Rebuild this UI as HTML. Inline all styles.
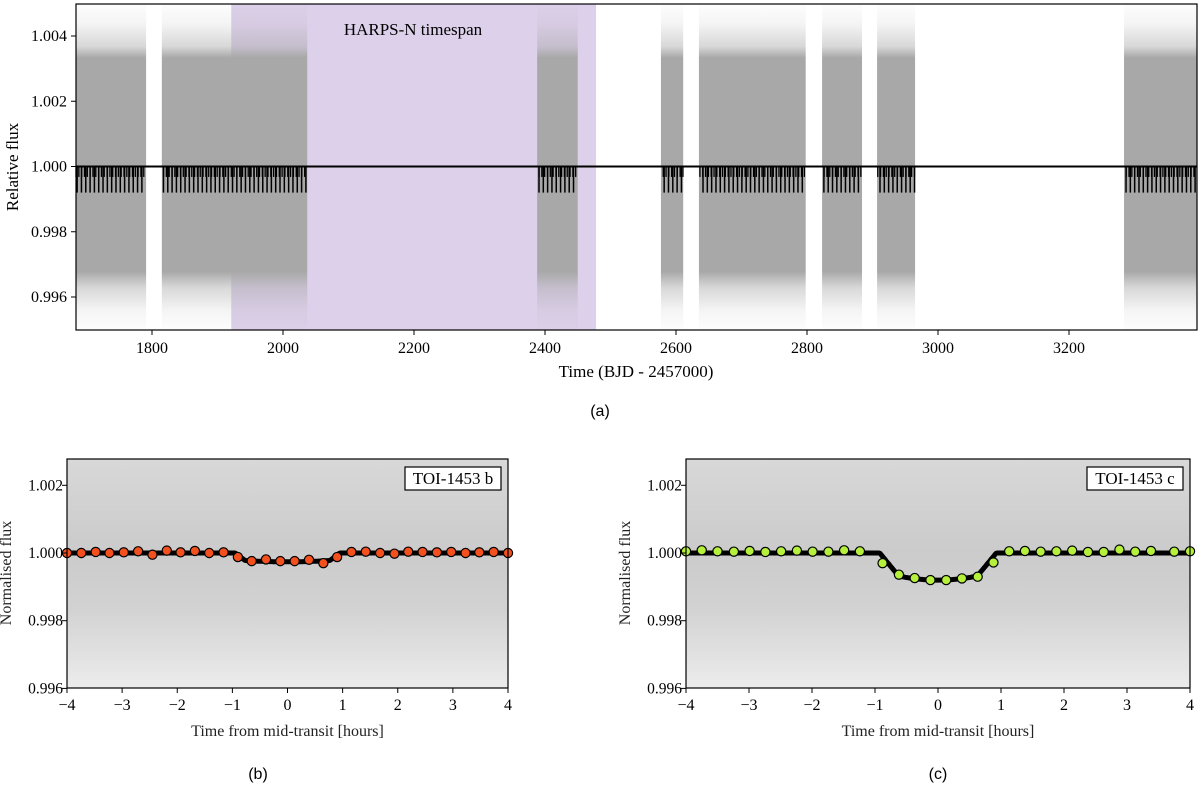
<!DOCTYPE html>
<html><head><meta charset="utf-8"><style>
body{margin:0;background:#fff}
svg{display:block;font-family:"Liberation Serif",serif}
</style></head><body>
<svg id="fig" width="1200" height="785" viewBox="0 0 1200 785">
<defs>
<linearGradient id="segGrad" x1="0" y1="0" x2="0" y2="1">
<stop offset="0" stop-color="#a8a8a8" stop-opacity="0.02"/>
<stop offset="0.06" stop-color="#a8a8a8" stop-opacity="0.12"/>
<stop offset="0.13" stop-color="#a8a8a8" stop-opacity="0.45"/>
<stop offset="0.165" stop-color="#a8a8a8" stop-opacity="1"/>
<stop offset="0.82" stop-color="#a8a8a8" stop-opacity="1"/>
<stop offset="0.87" stop-color="#a8a8a8" stop-opacity="0.45"/>
<stop offset="0.94" stop-color="#a8a8a8" stop-opacity="0.12"/>
<stop offset="1" stop-color="#a8a8a8" stop-opacity="0.02"/>
</linearGradient>
<linearGradient id="phGrad" x1="0" y1="0" x2="0" y2="1">
<stop offset="0" stop-color="#d8d8d8"/>
<stop offset="0.4" stop-color="#cbcbcb"/>
<stop offset="0.65" stop-color="#d2d2d2"/>
<stop offset="1" stop-color="#ececec"/>
</linearGradient>
</defs>
<g id="top"></g>
<g id="pb"></g>
<g id="pc"></g>
<text x="600" y="416" font-size="16" text-anchor="middle" font-family="Liberation Sans, sans-serif">(a)</text>
<text x="258" y="779" font-size="16" text-anchor="middle" font-family="Liberation Sans, sans-serif">(b)</text>
<text x="938" y="779" font-size="16" text-anchor="middle" font-family="Liberation Sans, sans-serif">(c)</text>
</svg>
<script>
// ---- top panel data ----
const segStarts = [1684, 1815, 2388, 2577, 2635, 2823, 2907, 3284];
const segEnds   = [1791, 2037, 2450, 2611, 2798, 2884, 2965, 3395];
const harpsSpan = [1921, 2478];
const topXTicks = [1800, 2000, 2200, 2400, 2600, 2800, 3000, 3200];
const topYTicks = [0.996, 0.998, 1.000, 1.002, 1.004];
const transitPeriods = [4.31, 6.59];
const transitDepths = [0.99968, 0.9992];
// ---- phase panels data ----
const phaseTicksX = [-4, -3, -2, -1, 0, 1, 2, 3, 4];
const phaseTicksY = [0.996, 0.998, 1.000, 1.002];
const binTimesB = [-4,-3.74,-3.48,-3.23,-2.97,-2.71,-2.45,-2.19,-1.94,-1.68,-1.42,-1.16,-0.9,-0.65,-0.39,-0.13,0.13,0.39,0.65,0.9,1.16,1.42,1.68,1.94,2.19,2.45,2.71,2.97,3.23,3.48,3.74,4];
const binFluxB  = [1.0000,1.0000,1.00003,1.0000,1.00002,1.00005,0.99995,1.00007,1.00002,1.00006,1.0000,1.00002,0.99988,0.99976,0.99981,0.99976,0.99976,0.9998,0.9997,0.99988,1.00003,1.00004,1.0000,0.99998,1.00004,1.00003,1.00002,1.00003,1.0000,1.00002,1.00003,1.0000];
const binTimesC = [-4,-3.75,-3.5,-3.24,-2.99,-2.74,-2.49,-2.24,-1.99,-1.74,-1.49,-1.24,-0.88,-0.62,-0.37,-0.12,0.13,0.38,0.63,0.88,1.13,1.38,1.63,1.88,2.13,2.38,2.63,2.88,3.13,3.38,3.75,4];
const binFluxC  = [1.00005,1.00008,1.00005,1.00004,1.00006,1.00003,1.00005,1.00007,1.00004,1.00004,1.00008,1.00005,0.9997,0.99936,0.99926,0.9992,0.9992,0.99925,0.9993,0.99972,1.00005,1.00006,1.00004,1.00005,1.00007,1.00003,1.00003,1.0001,1.00004,1.00006,1.00004,1.00005];
const modelDepth = [0.00026, 0.0008];
const modelT14 = [1.9, 1.85];
const modelTau = [0.18, 0.3];

const NS = "http://www.w3.org/2000/svg";
function mk(parent, tag, attrs){const e=document.createElementNS(NS,tag);for(const k in attrs)e.setAttribute(k,attrs[k]);parent.appendChild(e);return e;}

// ---- top panel ----
(function(){
  const g=document.getElementById('top');
  const L=76,R=1197,T=4,B=330;
  const xs=v=>152+(v-1800)*0.655;
  const ys=v=>166.5-(v-1)*32625;
  const hs=mk(g,'rect',{x:xs(harpsSpan[0]),y:T,width:xs(harpsSpan[1])-xs(harpsSpan[0]),height:B-T,fill:'#ddd0ea'});
  
  
  for(let i=0;i<segStarts.length;i++){
    const r=mk(g,'rect',{x:xs(segStarts[i]),y:T,width:xs(segEnds[i])-xs(segStarts[i]),height:B-T,fill:'url(#segGrad)'});
    
    
  }
  transitPeriods.forEach((P,pi)=>{
    for(let i=0;i<segStarts.length;i++){
      let t0=Math.ceil((segStarts[i]-1684)/P)*P+1684+pi*1.7;
      for(let t=t0;t<segEnds[i];t+=P){
        const l=mk(g,'line',{x1:xs(t),x2:xs(t),y1:ys(1),y2:ys(transitDepths[pi]),stroke:'#000','stroke-width':pi?1.5:1.3});
        
        
      }
    }
  });
  const ml=mk(g,'line',{x1:L,x2:R,y1:ys(1),y2:ys(1),stroke:'#000','stroke-width':2});
  
  
  const fr=mk(g,'rect',{x:L,y:T,width:R-L,height:B-T,fill:'none',stroke:'#000','stroke-width':1.2});
  
  
  const ht=mk(g,'text',{x:413,y:35,'font-size':17,'text-anchor':'middle'});ht.textContent='HARPS-N timespan';
  
  
  topXTicks.forEach(v=>{mk(g,'line',{x1:xs(v),x2:xs(v),y1:B,y2:B+5,stroke:'#000'});
    const t=mk(g,'text',{x:xs(v),y:B+23,'font-size':16,'text-anchor':'middle'});t.textContent=v;
    
    });
  topYTicks.forEach(v=>{mk(g,'line',{x1:L-5,x2:L,y1:ys(v),y2:ys(v),stroke:'#000'});
    const t=mk(g,'text',{x:L-9,y:ys(v)+5,'font-size':16,'text-anchor':'end'});t.textContent=v.toFixed(3);
    
    });
  const xt=mk(g,'text',{x:636,y:377,'font-size':17,'text-anchor':'middle'});xt.textContent='Time (BJD - 2457000)';
  
  
  const yt=mk(g,'text',{x:18,y:167,'font-size':17,'text-anchor':'middle',transform:'rotate(-90 18 167)'});yt.textContent='Relative flux';
  
  
})();

// ---- phase panels ----
function phasePanel(id,L,R,times,flux,k,color,label){
  const g=document.getElementById(id);
  const T=459,B=688;
  const xs=v=>L+(v+4)*(R-L)/8;
  const ys=v=>553-(v-1)*33850;
  const bg=mk(g,'rect',{x:L,y:T,width:R-L,height:B-T,fill:'url(#phGrad)'});
  
  
  let d='';
  for(let i=0;i<=400;i++){const t=-4+8*i/400;const a=Math.abs(t),h=modelT14[k]/2,tau=modelTau[k];
    let f=0;if(a<h-tau)f=1-0.15*(a/(h-tau))**2;else if(a<h)f=(h-a)/tau*0.85;
    const v=1-modelDepth[k]*f;d+=(i?'L':'M')+xs(t).toFixed(1)+' '+ys(v).toFixed(1);}
  const m=mk(g,'path',{d:d,fill:'none',stroke:'#000','stroke-width':5});
  
  
  times.forEach((t,i)=>{const c=mk(g,'circle',{cx:xs(t),cy:ys(flux[i]),r:4.6,fill:color,stroke:'#000','stroke-width':1.2});
    
    });
  const fr=mk(g,'rect',{x:L,y:T,width:R-L,height:B-T,fill:'none',stroke:'#000','stroke-width':1.2});
  
  
  phaseTicksX.forEach(v=>{mk(g,'line',{x1:xs(v),x2:xs(v),y1:B,y2:B+5,stroke:'#000'});
    const t=mk(g,'text',{x:xs(v),y:B+22,'font-size':16,'text-anchor':'middle'});t.textContent=v<0?'\u2212'+(-v):v;
    
    });
  phaseTicksY.forEach(v=>{mk(g,'line',{x1:L-5,x2:L,y1:ys(v),y2:ys(v),stroke:'#000'});
    const t=mk(g,'text',{x:L-4,y:ys(v)+5,'font-size':15.5,'text-anchor':'end'});t.textContent=v.toFixed(3);
    
    });
  const xt=mk(g,'text',{x:(L+R)/2,y:736,'font-size':16,'text-anchor':'middle',fill:'#222'});xt.textContent='Time from mid-transit [hours]';
  
  
  const yx=L-56;
  const yt=mk(g,'text',{x:yx,y:573,'font-size':16,'text-anchor':'middle',fill:'#222',transform:'rotate(-90 '+yx+' 573)'});yt.textContent='Normalised flux';
  
  
  const bx=mk(g,'rect',{x:R-103,y:467,width:96,height:23,fill:'#fff',stroke:'#000','stroke-width':1.2});
  
  
  const lt=mk(g,'text',{x:R-55,y:484,'font-size':17,'text-anchor':'middle'});lt.textContent=label;
  
  
}
phasePanel('pb',67,508,binTimesB,binFluxB,0,'#f4501e','TOI-1453 b');
phasePanel('pc',686,1190,binTimesC,binFluxC,1,'#b5f03c','TOI-1453 c');
</script>
</body></html>
